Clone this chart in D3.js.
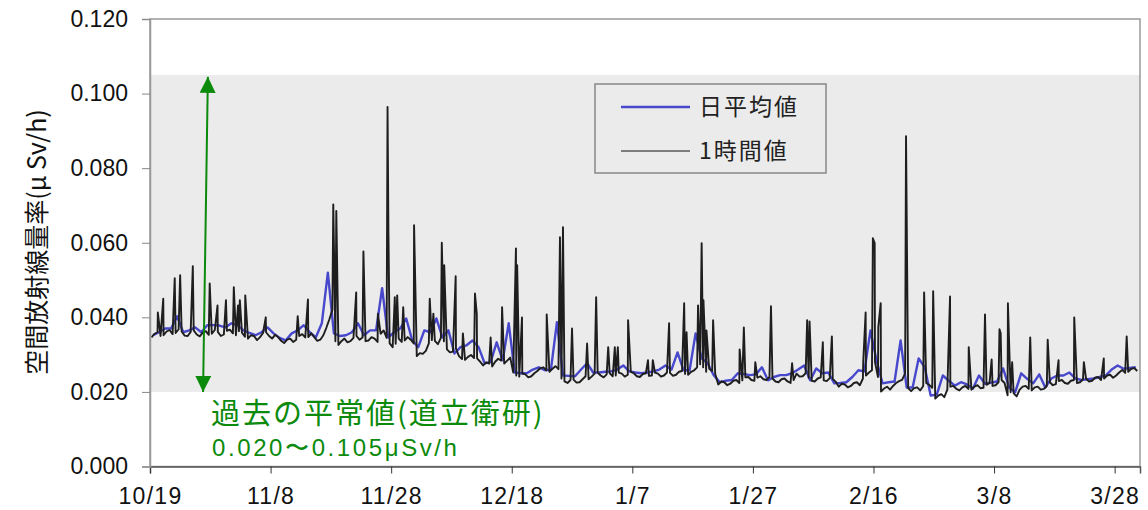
<!DOCTYPE html>
<html lang="ja">
<head>
<meta charset="UTF-8">
<title>空間放射線量率</title>
<script src="https://d3js.org/d3.v7.min.js"></script>
<style>
  body { margin: 0; background: #fff; }
  svg { display: block; }
  .tick text { font-family: "Liberation Sans", Arial, sans-serif; fill: #111; }
  .jp { font-family: "Noto Sans CJK JP", sans-serif; }
</style>
</head>
<body>
<div id="chart"></div>
<script>
// --- data ---
const startDay = Date.UTC(2012, 9, 19);          // 10/19
const endDay = Date.UTC(2013, 3, 1, 5);           // right edge of plot
const xTickLabels = ["10/19", "11/8", "11/28", "12/18", "1/7", "1/27", "2/16", "3/8", "3/28"];
const xTickStepDays = 20;
const yTicks = [0, 0.02, 0.04, 0.06, 0.08, 0.10, 0.12];
const normalRange = [0.020, 0.105];   // 過去の平常値

// 日平均値, one value per day from 10/19
const dailyMean = [
  0.0352, 0.0360, 0.0370, 0.0370, 0.0403, 0.0360, 0.0365, 0.0373, 0.0360, 0.0379,
  0.0379, 0.0378, 0.0373, 0.0384, 0.0379, 0.0365, 0.0358, 0.0352, 0.0360, 0.0373,
  0.0357, 0.0345, 0.0338, 0.0357, 0.0365, 0.0379, 0.0360, 0.0346, 0.0384, 0.0520,
  0.0357, 0.0350, 0.0352, 0.0360, 0.0384, 0.0352, 0.0365, 0.0365, 0.0478, 0.0346,
  0.0360, 0.0370, 0.0397, 0.0338, 0.0320, 0.0365, 0.0360, 0.0397, 0.0346, 0.0365,
  0.0303, 0.0320, 0.0325, 0.0338, 0.0320, 0.0277, 0.0280, 0.0333, 0.0285, 0.0384,
  0.0252, 0.0250, 0.0250, 0.0260, 0.0266, 0.0258, 0.0260, 0.0387, 0.0244, 0.0243,
  0.0242, 0.0260, 0.0277, 0.0252, 0.0252, 0.0254, 0.0255, 0.0260, 0.0271, 0.0255,
  0.0252, 0.0250, 0.0252, 0.0255, 0.0260, 0.0271, 0.0260, 0.0306, 0.0258, 0.0258,
  0.0357, 0.0290, 0.0277, 0.0245, 0.0226, 0.0230, 0.0232, 0.0250, 0.0248, 0.0245,
  0.0247, 0.0266, 0.0231, 0.0240, 0.0245, 0.0245, 0.0250, 0.0260, 0.0271, 0.0231,
  0.0263, 0.0250, 0.0252, 0.0223, 0.0224, 0.0226, 0.0240, 0.0258, 0.0255, 0.0365,
  0.0285, 0.0223, 0.0226, 0.0228, 0.0338, 0.0212, 0.0212, 0.0290, 0.0266, 0.0190,
  0.0193, 0.0244, 0.0230, 0.0217, 0.0226, 0.0220, 0.0209, 0.0244, 0.0222, 0.0225,
  0.0228, 0.0263, 0.0212, 0.0199, 0.0250, 0.0235, 0.0223, 0.0247, 0.0212, 0.0236,
  0.0244, 0.0244, 0.0252, 0.0236, 0.0232, 0.0234, 0.0236, 0.0240, 0.0244, 0.0260,
  0.0271, 0.0262, 0.0264, 0.0266
];

// 1時間値 background level, two readings per day (about 6:00 and 18:00)
const hourlyLevel = [
  0.0346, 0.0356, 0.0360, 0.0350, 0.0352, 0.0362, 0.0366, 0.0355, 0.0358, 0.0368,
  0.0362, 0.0351, 0.0350, 0.0361, 0.0365, 0.0354, 0.0349, 0.0359, 0.0363, 0.0353,
  0.0356, 0.0366, 0.0361, 0.0350, 0.0354, 0.0364, 0.0367, 0.0357, 0.0352, 0.0363,
  0.0359, 0.0348, 0.0343, 0.0352, 0.0350, 0.0339, 0.0347, 0.0358, 0.0360, 0.0350,
  0.0343, 0.0353, 0.0347, 0.0337, 0.0331, 0.0340, 0.0343, 0.0334, 0.0340, 0.0350,
  0.0355, 0.0346, 0.0347, 0.0357, 0.0347, 0.0337, 0.0340, 0.0352, 0.0372, 0.0395,
  0.0420, 0.0336, 0.0326, 0.0336, 0.0343, 0.0333, 0.0336, 0.0345, 0.0350, 0.0340,
  0.0346, 0.0336, 0.0338, 0.0347, 0.0343, 0.0334, 0.0356, 0.0365, 0.0345, 0.0330,
  0.0320, 0.0329, 0.0343, 0.0334, 0.0338, 0.0347, 0.0340, 0.0330, 0.0296, 0.0304,
  0.0302, 0.0310, 0.0330, 0.0339, 0.0337, 0.0328, 0.0345, 0.0336, 0.0314, 0.0306,
  0.0308, 0.0316, 0.0296, 0.0288, 0.0286, 0.0294, 0.0299, 0.0291, 0.0290, 0.0281,
  0.0271, 0.0279, 0.0276, 0.0268, 0.0281, 0.0289, 0.0284, 0.0276, 0.0284, 0.0292,
  0.0252, 0.0244, 0.0241, 0.0249, 0.0247, 0.0239, 0.0242, 0.0250, 0.0256, 0.0264,
  0.0266, 0.0258, 0.0254, 0.0262, 0.0269, 0.0261, 0.0236, 0.0228, 0.0224, 0.0232,
  0.0233, 0.0225, 0.0226, 0.0234, 0.0242, 0.0234, 0.0241, 0.0249, 0.0252, 0.0244,
  0.0239, 0.0247, 0.0250, 0.0242, 0.0244, 0.0252, 0.0249, 0.0241, 0.0246, 0.0254,
  0.0250, 0.0242, 0.0240, 0.0248, 0.0250, 0.0243, 0.0244, 0.0252, 0.0249, 0.0241,
  0.0244, 0.0252, 0.0251, 0.0243, 0.0246, 0.0254, 0.0256, 0.0248, 0.0246, 0.0254,
  0.0258, 0.0266, 0.0274, 0.0266, 0.0254, 0.0262, 0.0256, 0.0248, 0.0220, 0.0228,
  0.0226, 0.0218, 0.0222, 0.0230, 0.0232, 0.0224, 0.0231, 0.0239, 0.0240, 0.0232,
  0.0230, 0.0238, 0.0242, 0.0234, 0.0232, 0.0240, 0.0236, 0.0228, 0.0226, 0.0234,
  0.0236, 0.0228, 0.0224, 0.0232, 0.0249, 0.0241, 0.0242, 0.0250, 0.0238, 0.0230,
  0.0228, 0.0236, 0.0239, 0.0231, 0.0229, 0.0237, 0.0235, 0.0227, 0.0214, 0.0222,
  0.0220, 0.0212, 0.0216, 0.0224, 0.0226, 0.0218, 0.0236, 0.0244, 0.0252, 0.0258,
  0.0280, 0.0240, 0.0201, 0.0209, 0.0214, 0.0206, 0.0216, 0.0224, 0.0229, 0.0232,
  0.0250, 0.0210, 0.0202, 0.0210, 0.0212, 0.0204, 0.0216, 0.0224, 0.0219, 0.0211,
  0.0182, 0.0190, 0.0194, 0.0186, 0.0206, 0.0214, 0.0216, 0.0208, 0.0204, 0.0212,
  0.0216, 0.0208, 0.0206, 0.0214, 0.0218, 0.0210, 0.0211, 0.0219, 0.0224, 0.0216,
  0.0218, 0.0226, 0.0232, 0.0224, 0.0191, 0.0199, 0.0196, 0.0188, 0.0206, 0.0214,
  0.0216, 0.0208, 0.0204, 0.0212, 0.0214, 0.0206, 0.0208, 0.0216, 0.0226, 0.0218,
  0.0221, 0.0229, 0.0232, 0.0224, 0.0222, 0.0230, 0.0232, 0.0224, 0.0226, 0.0234,
  0.0236, 0.0228, 0.0230, 0.0238, 0.0240, 0.0232, 0.0236, 0.0244, 0.0246, 0.0238,
  0.0244, 0.0252, 0.0259, 0.0251, 0.0254, 0.0262, 0.0264, 0.0256
];

// 1時間値 peaks: [days after 10/19, value]
const hourlyPeaks = [
  [1.3, 0.0413], [2.2, 0.0450], [4.1, 0.0505], [5.0, 0.0513], [7.1, 0.0537],
  [9.9, 0.0491], [11.2, 0.0432], [12.6, 0.0446], [13.9, 0.0481], [14.6, 0.0432],
  [14.9, 0.0446], [15.8, 0.0459], [19.2, 0.0400], [24.5, 0.0403], [26.2, 0.0448],
  [30.4, 0.0703], [30.9, 0.0685], [34.2, 0.0467], [35.4, 0.0577], [37.8, 0.0410],
  [39.4, 0.0964], [39.55, 0.0625], [40.6, 0.0454], [41.0, 0.0459], [42.0, 0.0427],
  [43.8, 0.0647], [46.4, 0.0450], [47.0, 0.0410], [48.4, 0.0600], [48.8, 0.0540],
  [50.7, 0.0510], [51.9, 0.0357], [53.9, 0.0464], [54.2, 0.0410], [56.5, 0.0346],
  [58.4, 0.0427], [60.7, 0.0585], [60.9, 0.0540], [61.7, 0.0400], [65.8, 0.0408],
  [68.0, 0.0615], [68.5, 0.0642], [70.0, 0.0370], [72.5, 0.0330], [74.0, 0.0454],
  [76.0, 0.0320], [77.1, 0.0320], [77.6, 0.0320], [79.3, 0.0392], [82.6, 0.0285],
  [83.4, 0.0285], [86.1, 0.0384], [88.6, 0.0438], [89.0, 0.0360], [90.9, 0.0432],
  [91.5, 0.0599], [91.8, 0.0446], [92.3, 0.0365], [93.4, 0.0392], [97.8, 0.0314],
  [98.5, 0.0373], [100.4, 0.0280], [103.0, 0.0430], [106.5, 0.0277], [109.0, 0.0392],
  [109.4, 0.0389], [111.6, 0.0333], [113.1, 0.0349], [118.3, 0.0280], [118.7, 0.0413],
  [119.9, 0.0612], [120.2, 0.0599], [120.8, 0.0373], [121.2, 0.0438], [125.4, 0.0886],
  [128.4, 0.0467], [129.9, 0.0470], [132.7, 0.0456], [135.8, 0.0320], [138.5, 0.0408],
  [139.6, 0.0287], [140.9, 0.0368], [141.1, 0.0357], [142.3, 0.0438], [143.0, 0.0280],
  [146.0, 0.0346], [148.9, 0.0340], [150.7, 0.0285], [153.3, 0.0400], [154.9, 0.0280],
  [158.2, 0.0290], [162.0, 0.0349]
];

// annotation arrow ends [day, value]
const arrowTop = [9.6, 0.1045];
const arrowBottom = [8.8, 0.020];

// --- chart ---
const W = 1148, H = 510;
const plot = { left: 150, right: 1140, top: 19, bottom: 466.5 };
const dayMs = 864e5;
const toDate = d => new Date(startDay + d * dayMs);

const svg = d3.select("#chart").append("svg").attr("width", W).attr("height", H);

const x = d3.scaleUtc().domain([new Date(startDay), new Date(endDay)]).range([plot.left, plot.right]);
const y = d3.scaleLinear().domain([0, 0.12]).range([plot.bottom, plot.top]);

// normal range band
svg.append("rect")
  .attr("x", plot.left).attr("width", plot.right - plot.left)
  .attr("y", y(normalRange[1])).attr("height", y(normalRange[0]) - y(normalRange[1]))
  .attr("fill", "#ebebeb");

// series
const dailyPts = dailyMean.map((v, i) => [toDate(i + 0.5), v]);
const hourlyPts = hourlyLevel.map((v, i) => [toDate(i * 0.5 + 0.25), v])
  .concat(hourlyPeaks.map(p => [toDate(p[0]), p[1]]))
  .sort((a, b) => a[0] - b[0]);

const line = d3.line().x(d => x(d[0])).y(d => y(d[1]));

svg.append("path").datum(dailyPts)
  .attr("d", line).attr("fill", "none")
  .attr("stroke", "#4848cc").attr("stroke-width", 2.4).attr("stroke-linejoin", "round");

svg.append("path").datum(hourlyPts)
  .attr("d", line).attr("fill", "none")
  .attr("stroke", "#1e1e1e").attr("stroke-width", 1.9).attr("stroke-linejoin", "round");

// frame
svg.append("rect")
  .attr("x", plot.left).attr("y", plot.top)
  .attr("width", plot.right - plot.left).attr("height", plot.bottom - plot.top)
  .attr("fill", "none").attr("stroke", "#999").attr("stroke-width", 1.5);

// axes
const xTicks = xTickLabels.map((_, i) => toDate(i * xTickStepDays));
const xAxis = svg.append("g")
  .attr("transform", `translate(0,${plot.bottom})`)
  .call(d3.axisBottom(x).tickValues(xTicks).tickFormat((d, i) => xTickLabels[i])
    .tickSize(7).tickPadding(14));
xAxis.select(".domain").attr("stroke", "#555").attr("stroke-width", 1.5);
xAxis.selectAll(".tick line").attr("stroke", "#333");
xAxis.selectAll(".tick text").attr("font-size", 23).attr("letter-spacing", 1.3);

const yAxis = svg.append("g")
  .attr("transform", `translate(${plot.left},0)`)
  .call(d3.axisLeft(y).tickValues(yTicks).tickFormat(d3.format(".3f"))
    .tickSize(8).tickPadding(14));
yAxis.select(".domain").attr("stroke", "#999").attr("stroke-width", 1.5);
yAxis.selectAll(".tick line").attr("stroke", "#888");
yAxis.selectAll(".tick text").attr("font-size", 23);

// y title
svg.append("text").attr("class", "jp")
  .attr("transform", `translate(46,242) rotate(-90)`)
  .attr("text-anchor", "middle")
  .attr("font-size", 25).attr("fill", "#111")
  .text("空間放射線量率(μ Sv/h)");

// arrow for normal range
const green = "#0b8a0b";
const defs = svg.append("defs");
defs.append("marker").attr("id", "head")
  .attr("viewBox", "0 0 16 16").attr("refX", 16).attr("refY", 8)
  .attr("markerWidth", 16).attr("markerHeight", 16)
  .attr("markerUnits", "userSpaceOnUse").attr("orient", "auto-start-reverse")
  .append("path").attr("d", "M0,0 L16,8 L0,16 Z").attr("fill", green);

svg.append("line")
  .attr("x1", x(toDate(arrowBottom[0]))).attr("y1", y(arrowBottom[1]))
  .attr("x2", x(toDate(arrowTop[0]))).attr("y2", y(arrowTop[1]))
  .attr("stroke", green).attr("stroke-width", 2)
  .attr("marker-start", "url(#head)").attr("marker-end", "url(#head)");

svg.append("text").attr("class", "jp")
  .attr("x", 211).attr("y", 424).attr("font-size", 29).attr("letter-spacing", 2).attr("fill", green)
  .text("過去の平常値(道立衛研)");
svg.append("text")
  .attr("x", 212).attr("y", 456).attr("font-family", "'Liberation Sans', Arial, sans-serif")
  .attr("font-size", 24).attr("letter-spacing", 2.6).attr("fill", green)
  .text("0.020〜0.105μSv/h");

// legend
const lg = svg.append("g");
lg.append("rect").attr("x", 595).attr("y", 84).attr("width", 231).attr("height", 89)
  .attr("fill", "#ebebeb").attr("stroke", "#888").attr("stroke-width", 1.5);
const legendItems = [
  { label: "日平均値", color: "#4848cc", width: 2.6, cy: 107 },
  { label: "1時間値", color: "#111", width: 1, cy: 151 }
];
legendItems.forEach(it => {
  lg.append("line").attr("x1", 621).attr("x2", 690).attr("y1", it.cy).attr("y2", it.cy)
    .attr("stroke", it.color).attr("stroke-width", it.width);
  lg.append("text").attr("class", "jp").attr("x", 699).attr("y", it.cy)
    .attr("dy", "0.36em").attr("font-size", 23).attr("letter-spacing", 2).attr("fill", "#222")
    .text(it.label);
});
</script>
</body>
</html>
